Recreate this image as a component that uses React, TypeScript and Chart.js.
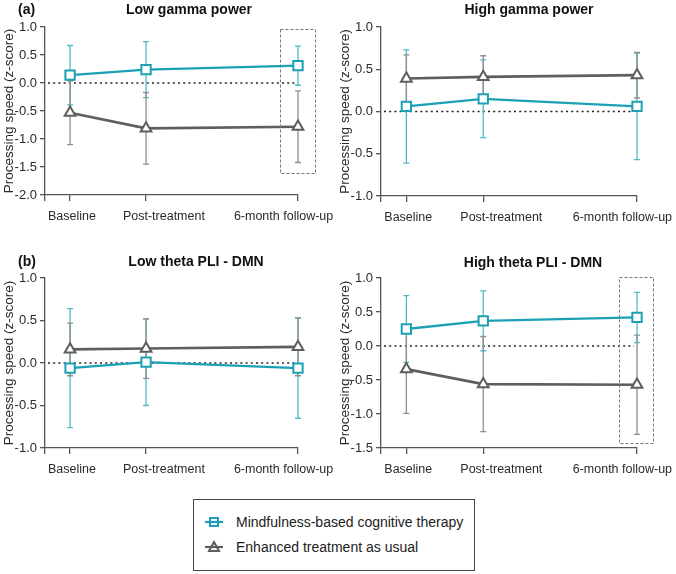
import React, { useEffect, useRef } from "react";
import { Chart, registerables } from "chart.js";
Chart.register(...registerables);

Chart.defaults.font.family = "'Liberation Sans', Arial, sans-serif";

// ---- data ----
const timePoints = [0, 2, 6];
const categoryLabels = ["Baseline", "Post-treatment", "6-month follow-up"];
const labelPositions = [0.05, 2.47, 5.62];
const seriesNames = ["Mindfulness-based cognitive therapy", "Enhanced treatment as usual"];

const lowGammaMBCT = [0.14, 0.24, 0.31];
const lowGammaMBCTErr = [0.53, 0.5, 0.35];
const lowGammaTAU = [-0.53, -0.81, -0.78];
const lowGammaTAUErr = [0.57, 0.64, 0.64];

const highGammaMBCT = [0.06, 0.15, 0.06];
const highGammaMBCTErr = [0.67, 0.46, 0.63];
const highGammaTAU = [0.39, 0.41, 0.43];
const highGammaTAUErr = [0.28, 0.25, 0.27];

const lowThetaMBCT = [-0.06, 0.01, -0.06];
const lowThetaMBCTErr = [0.7, 0.51, 0.59];
const lowThetaTAU = [0.16, 0.17, 0.19];
const lowThetaTAUErr = [0.31, 0.35, 0.34];

const highThetaMBCT = [0.25, 0.37, 0.42];
const highThetaMBCTErr = [0.49, 0.44, 0.37];
const highThetaTAU = [-0.34, -0.56, -0.57];
const highThetaTAUErr = [0.65, 0.7, 0.73];

// highlight boxes (data units)
const lowGammaBox = { x0: 5.53, x1: 6.45, y0: -1.6, y1: 0.97 };
const highThetaBox = { x0: 5.54, x1: 6.42, y0: -1.43, y1: 1.01 };

const X_MIN = -0.66;
const X_MAX = 6;

const TEAL = "#1ba1b3";
const TEAL_ERR = "#52bccb";
const GRAY = "#5e5e5e";
const GRAY_ERR = "#8e8e8e";
const AXIS = "#555555";
const TEXT = "#2a2a2a";

type Box = { x0: number; x1: number; y0: number; y1: number };
type PanelDef = {
  title: string;
  yMin: number;
  yMax: number;
  mbct: number[];
  mbctErr: number[];
  tau: number[];
  tauErr: number[];
  box?: Box;
  left: number;
  top: number;
  width: number;
  height: number;
  padTop: number;
  padRight: number;
  xAxisH: number;
  titleX: number;
  titleY: number;
};

const panels: PanelDef[] = [
  {
    title: "Low gamma power", yMin: -2, yMax: 1,
    mbct: lowGammaMBCT, mbctErr: lowGammaMBCTErr, tau: lowGammaTAU, tauErr: lowGammaTAUErr,
    box: lowGammaBox,
    left: 0, top: 0, width: 360, height: 240, padTop: 27, padRight: 62, xAxisH: 45,
    titleX: 189, titleY: 9,
  },
  {
    title: "High gamma power", yMin: -1, yMax: 1,
    mbct: highGammaMBCT, mbctErr: highGammaMBCTErr, tau: highGammaTAU, tauErr: highGammaTAUErr,
    left: 336, top: 0, width: 340, height: 240, padTop: 27, padRight: 39, xAxisH: 44,
    titleX: 529, titleY: 9,
  },
  {
    title: "Low theta PLI - DMN", yMin: -1, yMax: 1,
    mbct: lowThetaMBCT, mbctErr: lowThetaMBCTErr, tau: lowThetaTAU, tauErr: lowThetaTAUErr,
    left: 0, top: 240, width: 360, height: 240, padTop: 38, padRight: 62, xAxisH: 32,
    titleX: 196, titleY: 261,
  },
  {
    title: "High theta PLI - DMN", yMin: -1.5, yMax: 1,
    mbct: highThetaMBCT, mbctErr: highThetaMBCTErr, tau: highThetaTAU, tauErr: highThetaTAUErr,
    box: highThetaBox,
    left: 336, top: 240, width: 340, height: 240, padTop: 38, padRight: 39, xAxisH: 32,
    titleX: 533, titleY: 262,
  },
];

const decorPlugin = {
  id: "decor",
  beforeDatasetsDraw(chart: any) {
    const ctx = chart.ctx;
    const xs = chart.scales.x;
    const ys = chart.scales.y;
    // dotted zero line
    ctx.save();
    ctx.strokeStyle = "#222";
    ctx.lineWidth = 1.6;
    ctx.setLineDash([2, 3.2]);
    const y0 = ys.getPixelForValue(0);
    ctx.beginPath();
    ctx.moveTo(chart.chartArea.left + 3, y0);
    ctx.lineTo(xs.getPixelForValue(X_MAX) - 3, y0);
    ctx.stroke();
    ctx.restore();
    // error bars
    const errOpt = chart.options.plugins.decor;
    chart.data.datasets.forEach((ds: any, di: number) => {
      const errs: number[] = errOpt.errors[di];
      if (!errs) return;
      ctx.save();
      ctx.strokeStyle = errOpt.errColors[di];
      ctx.lineWidth = 1.3;
      ds.data.forEach((p: any, i: number) => {
        const x = xs.getPixelForValue(p.x);
        const yt = ys.getPixelForValue(p.y + errs[i]);
        const yb = ys.getPixelForValue(p.y - errs[i]);
        ctx.beginPath();
        ctx.moveTo(x, yt);
        ctx.lineTo(x, yb);
        ctx.moveTo(x - 3, yt);
        ctx.lineTo(x + 3, yt);
        ctx.moveTo(x - 3, yb);
        ctx.lineTo(x + 3, yb);
        ctx.stroke();
      });
      ctx.restore();
    });
  },
  afterDraw(chart: any) {
    const box: Box | undefined = chart.options.plugins.decor.box;
    if (!box) return;
    const ctx = chart.ctx;
    const xs = chart.scales.x;
    const ys = chart.scales.y;
    const l = xs.getPixelForValue(box.x0);
    const r = xs.getPixelForValue(box.x1);
    const t = ys.getPixelForValue(box.y1);
    const b = ys.getPixelForValue(box.y0);
    ctx.save();
    ctx.strokeStyle = "#777";
    ctx.lineWidth = 1;
    ctx.setLineDash([3, 2]);
    ctx.strokeRect(Math.round(l) + 0.5, Math.round(t) + 0.5, Math.round(r - l), Math.round(b - t));
    ctx.restore();
  },
};

function PanelChart({ p }: { p: PanelDef }) {
  const ref = useRef<HTMLCanvasElement>(null);
  useEffect(() => {
    if (!ref.current) return;
    const toPts = (vals: number[]) => vals.map((v, i) => ({ x: timePoints[i], y: v }));
    const chart = new Chart(ref.current, {
      type: "line",
      data: {
        datasets: [
          {
            label: seriesNames[0],
            data: toPts(p.mbct),
            borderColor: TEAL,
            borderWidth: 2.3,
            pointStyle: "rect",
            pointRadius: 6.6,
            pointBorderWidth: 2,
            pointBorderColor: TEAL,
            pointBackgroundColor: "#ffffff",
            tension: 0,
            clip: false,
          },
          {
            label: seriesNames[1],
            data: toPts(p.tau),
            borderColor: GRAY,
            borderWidth: 2.6,
            pointStyle: "triangle",
            pointRadius: 6.2,
            pointBorderWidth: 2,
            pointBorderColor: GRAY,
            pointBackgroundColor: "#ffffff",
            tension: 0,
            clip: false,
          },
        ],
      },
      options: {
        animation: false,
        responsive: false,
        events: [],
        layout: { padding: { top: p.padTop, right: p.padRight, left: 0, bottom: 0 } },
        plugins: {
          legend: { display: false },
          tooltip: { enabled: false },
          decor: {
            errors: [p.mbctErr, p.tauErr],
            errColors: [TEAL_ERR, GRAY_ERR],
            box: p.box,
          },
        } as any,
        scales: {
          x: {
            type: "linear",
            min: X_MIN,
            max: X_MAX,
            weight: 0,
            afterBuildTicks: (s: any) => {
              s.ticks = [X_MIN, ...timePoints].map((v) => ({ value: v }));
            },
            afterFit: (s: any) => {
              s.height = 6;
            },
            ticks: { display: false },
            grid: {
              drawOnChartArea: false,
              drawTicks: true,
              tickLength: 6,
              color: AXIS,
              lineWidth: 1.3,
            },
            border: { display: true, color: AXIS, width: 1.3 },
          },
          xl: {
            type: "linear",
            position: "bottom",
            min: X_MIN,
            max: X_MAX,
            weight: 1,
            afterBuildTicks: (s: any) => {
              s.ticks = labelPositions.map((v) => ({ value: v }));
            },
            afterFit: (s: any) => {
              s.height = p.xAxisH - 6;
            },
            ticks: {
              autoSkip: false,
              maxRotation: 0,
              padding: 0,
              color: TEXT,
              font: { size: 12.5 },
              callback: (_v: any, i: number) => categoryLabels[i],
            },
            grid: { display: false },
            border: { display: false },
          },
          y: {
            type: "linear",
            min: p.yMin,
            max: p.yMax,
            afterBuildTicks: (s: any) => {
              const t = [];
              for (let v = p.yMin; v <= p.yMax + 1e-9; v += 0.5) t.push({ value: Math.round(v * 10) / 10 });
              s.ticks = t;
            },
            afterFit: (s: any) => {
              s.width = 45;
            },
            ticks: {
              padding: 3,
              color: TEXT,
              font: { size: 13 },
              callback: (v: any) => Number(v).toFixed(1),
            },
            grid: {
              drawOnChartArea: false,
              drawTicks: true,
              tickLength: 5,
              color: AXIS,
              lineWidth: 1.3,
            },
            border: { display: true, color: AXIS, width: 1.3 },
            title: {
              display: true,
              text: "Processing speed (z-score)",
              color: TEXT,
              font: { size: 13.5 },
              padding: { top: 1, bottom: 0 },
            },
          },
        },
      } as any,
      plugins: [decorPlugin],
    });
    return () => chart.destroy();
  }, [p]);
  return (
    <canvas
      ref={ref}
      width={p.width}
      height={p.height}
      style={{ position: "absolute", left: p.left, top: p.top, width: p.width, height: p.height }}
    />
  );
}

const font = "'Liberation Sans', Arial, sans-serif";

function LegendIcon({ kind }: { kind: "square" | "triangle" }) {
  const color = kind === "square" ? TEAL : GRAY;
  return (
    <svg width={20} height={14} style={{ display: "block" }}>
      <line x1={1} y1={7} x2={19} y2={7} stroke={color} strokeWidth={2.2} />
      {kind === "square" ? (
        <rect x={6} y={3} width={8} height={8} fill="none" stroke={color} strokeWidth={2} />
      ) : (
        <polygon points="10,2 15,11 5,11" fill="none" stroke={color} strokeWidth={2} />
      )}
    </svg>
  );
}

export default function App() {
  return (
    <div style={{ position: "absolute", left: 0, top: 0, width: 676, height: 574, background: "#fff", fontFamily: font }}>
      {panels.map((p, i) => (
        <PanelChart key={i} p={p} />
      ))}
      {panels.map((p, i) => (
        <div
          key={"t" + i}
          style={{
            position: "absolute",
            left: p.titleX,
            top: p.titleY - 8,
            transform: "translateX(-50%)",
            whiteSpace: "nowrap",
            fontWeight: "bold",
            fontSize: 14,
            lineHeight: "16px",
            color: "#111",
          }}
        >
          {p.title}
        </div>
      ))}
      <div style={{ position: "absolute", left: 18, top: 1, fontWeight: "bold", fontSize: 14, lineHeight: "16px", color: "#111" }}>(a)</div>
      <div style={{ position: "absolute", left: 18, top: 253, fontWeight: "bold", fontSize: 14, lineHeight: "16px", color: "#111" }}>(b)</div>
      <div
        style={{
          position: "absolute",
          left: 193,
          top: 499,
          width: 282,
          height: 72,
          boxSizing: "border-box",
          border: "1px solid #444",
        }}
      >
        {seriesNames.map((name, i) => (
          <div
            key={name}
            style={{
              position: "absolute",
              left: 10,
              top: i === 0 ? 13 : 38,
              display: "flex",
              alignItems: "center",
              height: 18,
              whiteSpace: "nowrap",
            }}
          >
            <LegendIcon kind={i === 0 ? "square" : "triangle"} />
            <span style={{ marginLeft: 12, fontSize: 14, color: "#222" }}>{name}</span>
          </div>
        ))}
      </div>
    </div>
  );
}
